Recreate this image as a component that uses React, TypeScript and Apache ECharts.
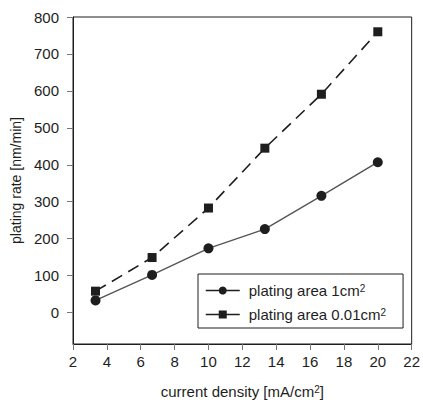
import React, { useEffect, useRef } from "react";
import * as echarts from "echarts";

const currentDensity = [3.33, 6.67, 10, 13.33, 16.67, 20];
const rateArea1 = [33, 102, 174, 226, 316, 407];
const rateArea001 = [58, 149, 283, 445, 591, 760];
const yTicks = [0, 100, 200, 300, 400, 500, 600, 700, 800];
const seriesNames = ["plating area 1cm2", "plating area 0.01cm2"];

const FONT = "'Liberation Sans', Arial, Helvetica, sans-serif";
const INK = "#1e1e1e";

export default function App() {
  const ref = useRef<HTMLDivElement>(null);
  useEffect(() => {
    if (!ref.current) return;
    const chart = echarts.init(ref.current, undefined, { renderer: "svg" });
    const pair = (xs: number[], ys: number[]) => xs.map((x, i) => [x, ys[i]]);
    const sup = {
      a: { fontSize: 15, color: INK, fontFamily: FONT },
      s: { fontSize: 10, color: INK, fontFamily: FONT, verticalAlign: "top" as const },
    };
    chart.setOption({
      animation: false,
      textStyle: { fontFamily: FONT, color: INK },
      grid: {
        left: 73,
        right: 10,
        top: 17,
        bottom: 62,
        show: true,
        borderColor: INK,
        borderWidth: 1,
        backgroundColor: "transparent",
      },
      xAxis: {
        type: "value",
        min: 2,
        max: 22,
        interval: 2,
        name: "{a|current density [mA/cm}{s|2}{a|]}",
        nameLocation: "middle",
        nameGap: 40,
        nameTextStyle: {
          rich: sup,
        },
        axisLine: { show: true, onZero: false, lineStyle: { color: INK, width: 1 } },
        axisTick: { show: true, inside: false, length: 6, lineStyle: { color: "#777" } },
        axisLabel: { fontSize: 15, color: INK, margin: 10, fontFamily: FONT },
        splitLine: { show: false },
      },
      yAxis: {
        type: "value",
        min: -85,
        max: 800,
        name: "plating rate [nm/min]",
        nameLocation: "middle",
        nameGap: 48,
        nameTextStyle: { fontSize: 14, color: INK, fontFamily: FONT },
        axisLine: { show: true, onZero: false, lineStyle: { color: INK, width: 1 } },
        axisTick: { show: true, inside: false, length: 6, customValues: yTicks, lineStyle: { color: "#777" } },
        axisLabel: { fontSize: 15, color: INK, margin: 14, fontFamily: FONT, customValues: yTicks },
        splitLine: { show: false },
      },
      legend: {
        orient: "vertical",
        left: 198,
        top: 274,
        padding: [9, 17, 6, 7],
        itemGap: 9,
        itemWidth: 34,
        itemHeight: 10,
        borderColor: INK,
        borderWidth: 1,
        backgroundColor: "#fff",
        formatter: (name: string) => `{a|${name.slice(0, -1)}}{s|2}`,
        textStyle: { rich: sup, padding: [0, 0, 0, 4] },
        data: [
          { name: seriesNames[0], lineStyle: { type: "solid", color: INK, width: 1.5 } },
          { name: seriesNames[1], lineStyle: { type: "solid", color: INK, width: 1.5 } },
        ],
      },
      series: [
        {
          name: seriesNames[0],
          type: "line",
          data: pair(currentDensity, rateArea1),
          symbol: "circle",
          symbolSize: 10,
          itemStyle: { color: INK },
          lineStyle: { color: "#555", width: 1.4, type: "solid" },
          z: 3,
        },
        {
          name: seriesNames[1],
          type: "line",
          data: pair(currentDensity, rateArea001),
          symbol: "rect",
          symbolSize: 9,
          itemStyle: { color: INK },
          lineStyle: { color: INK, width: 1.6, type: [12, 7] },
          z: 2,
        },
      ],
    });
    return () => chart.dispose();
  }, []);
  return <div ref={ref} style={{ width: 423, height: 406, position: "absolute", left: 0, top: 0, background: "#fff" }} />;
}
